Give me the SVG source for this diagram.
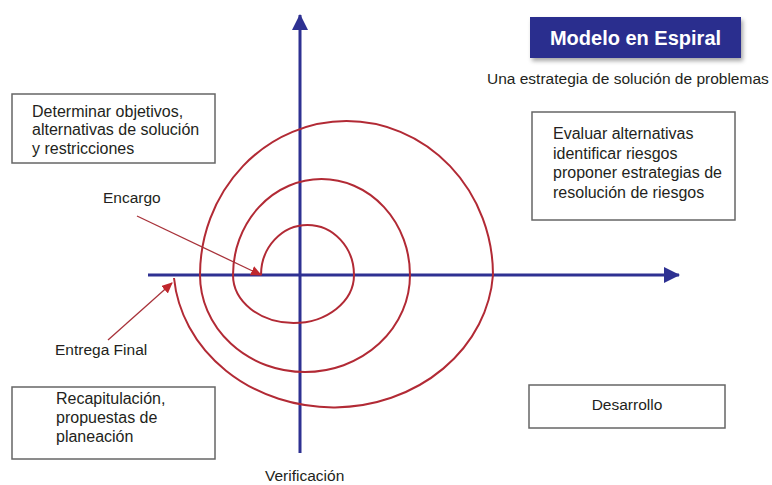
<svg xmlns="http://www.w3.org/2000/svg" width="772" height="485" viewBox="0 0 772 485">
<style>
.t{font-family:"Liberation Sans",Arial,sans-serif;font-size:15.5px;fill:#231f20}
.box{fill:#fff;stroke:#666;stroke-width:1.5}
.axis{stroke:#2e3192;stroke-width:3;fill:none}
.spiral{stroke:#b22a35;stroke-width:2;fill:none}
.lead{stroke:#a8323a;stroke-width:1.3;fill:none}
</style>
<defs>
<marker id="ab" markerUnits="userSpaceOnUse" markerWidth="18" markerHeight="18" refX="15" refY="8" orient="auto">
<path d="M0,0 L16,8 L0,16 Z" fill="#2e3192"/>
</marker>
<marker id="ar" markerUnits="userSpaceOnUse" markerWidth="12" markerHeight="12" refX="10" refY="5" orient="auto">
<path d="M0,0 L11,5 L0,10 Z" fill="#c0272d"/>
</marker>
<filter id="sh" x="-10%" y="-20%" width="125%" height="150%">
<feDropShadow dx="2" dy="3" stdDeviation="2" flood-color="#000" flood-opacity="0.35"/>
</filter>
</defs>

<g id="title">
<rect x="530" y="17" width="211" height="41" fill="#2b2f8e" filter="url(#sh)"/>
<text x="635.5" y="45" text-anchor="middle" style="font-family:'Liberation Sans',Arial,sans-serif;font-size:20px;font-weight:bold;fill:#fff">Modelo en Espiral</text>
</g>
<g id="subtitle">
<text class="t" x="487" y="84">Una estrategia de solución de problemas</text>
</g>

<g id="connectors">
<line class="axis" x1="300" y1="453" x2="300" y2="15" marker-end="url(#ab)"/>
<line class="axis" x1="148" y1="275" x2="679" y2="275" marker-end="url(#ab)"/>
<path class="spiral" d="M261,275 A46.5,50 0 0 1 354,275 A60.5,48 0 0 1 233,275 A88.5,96 0 0 1 410,275 A105,97 0 0 1 200,275 A146.5,154 0 0 1 493,275 A160,142 0 0 1 174,278"/>
<line class="lead" x1="137" y1="216" x2="261" y2="275" marker-end="url(#ar)"/>
<line class="lead" x1="108" y1="340" x2="172" y2="283" marker-end="url(#ar)"/>
</g>

<g id="objetivos">
<rect class="box" x="12" y="94" width="203" height="69"/>
<text class="t" x="32" y="116.5" style="font-size:16px">Determinar objetivos,</text>
<text class="t" x="32" y="135" style="font-size:16px">alternativas de solución</text>
<text class="t" x="32" y="153.5" style="font-size:16px">y restricciones</text>
</g>

<g id="riesgos">
<rect class="box" x="532" y="112" width="203" height="108"/>
<text class="t" x="553" y="139" style="font-size:16px">Evaluar alternativas</text>
<text class="t" x="553" y="158.5" style="font-size:16px">identificar riesgos</text>
<text class="t" x="553" y="178" style="font-size:16px">proponer estrategias de</text>
<text class="t" x="553" y="197.5" style="font-size:16px">resolución de riesgos</text>
</g>

<g id="recapitulacion">
<rect class="box" x="12" y="387" width="203" height="72"/>
<text class="t" x="56" y="404" style="font-size:16px">Recapitulación,</text>
<text class="t" x="56" y="423" style="font-size:16px">propuestas de</text>
<text class="t" x="56" y="442" style="font-size:16px">planeación</text>
</g>

<g id="desarrollo">
<rect class="box" x="529" y="385" width="196" height="43"/>
<text class="t" x="627" y="410" text-anchor="middle">Desarrollo</text>
</g>

<g id="encargo">
<text class="t" x="103" y="203">Encargo</text>
</g>
<g id="entrega">
<text class="t" x="55" y="355">Entrega Final</text>
</g>
<g id="verificacion">
<text class="t" x="265" y="481">Verificación</text>
</g>
</svg>
